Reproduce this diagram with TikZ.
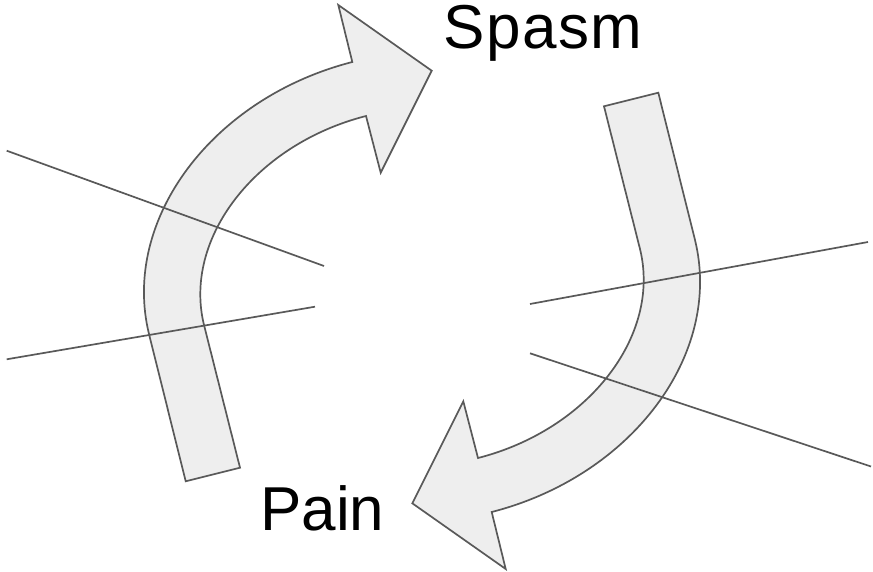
\documentclass[tikz,border=0pt]{standalone}
\usepackage{fontspec}
\setmainfont{Liberation Sans}
\definecolor{arrfill}{HTML}{EEEEEE}
\definecolor{edgegray}{HTML}{595959}
\newcommand\cyclearrowpath{(185.7,481.3) -- (240,467.7) -- (204,325) .. controls (182.7,238.3) and (255.6,144.2) .. (366,116) -- (380.7,172.7) -- (431.7,70.7) -- (338.3,5) -- (352.3,62) .. controls (212,98) and (121,220) .. (149,334) -- cycle}
\begin{document}
\begin{tikzpicture}[x=1pt,y=-1pt,
  bigarrow/.style={fill=arrfill,draw=edgegray,line width=1.7pt,line join=miter},
  thinline/.style={draw=edgegray,line width=1.7pt},
  lbl/.style={inner sep=0pt,anchor=base west,text height=43pt,text depth=12pt}]
\useasboundingbox (0,0) rectangle (873,572);
\path[bigarrow] \cyclearrowpath;
\begin{scope}[rotate around={180:(422,287)}]
\path[bigarrow] \cyclearrowpath;
\end{scope}
\coordinate (l1a) at (6.7,150.7);
\coordinate (l1b) at (324,266);
\coordinate (l2a) at (6.7,359.3);
\coordinate (l2b) at (315,306.7);
\coordinate (r1a) at (530,304);
\coordinate (r1b) at (868,242);
\coordinate (r2a) at (530,353.3);
\coordinate (r2b) at (871,466.5);
\draw[thinline] (l1a) -- (l1b);
\draw[thinline] (l2a) -- (l2b);
\draw[thinline] (r1a) -- (r1b);
\draw[thinline] (r2a) -- (r2b);
\node[lbl,font=\fontsize{62}{62}\selectfont\addfontfeatures{LetterSpace=2.5}] (spasm) at (443,48.5) {Spasm};
\node[lbl,font=\fontsize{62}{62}\selectfont] (pain) at (260,530) {Pain};
\end{tikzpicture}
\end{document}
